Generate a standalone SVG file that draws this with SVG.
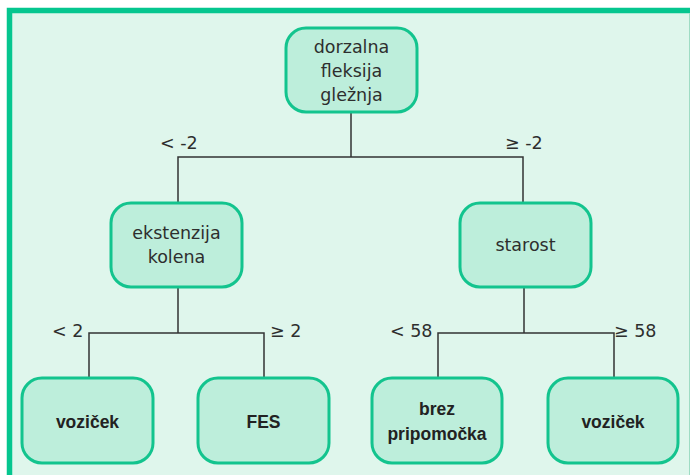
<svg xmlns="http://www.w3.org/2000/svg" width="690" height="475" viewBox="0 0 690 475">
<style>
.node rect{fill:#bdeedb;stroke:#13c48e;stroke-width:3}
.t{font-family:"DejaVu Sans",sans-serif;font-size:17.5px;fill:#2e2e2e;text-anchor:middle}
.b{font-family:"Liberation Sans",Arial,sans-serif;font-size:17.5px;font-weight:bold;fill:#222;text-anchor:middle}
.lbl{font-family:"DejaVu Sans",sans-serif;font-size:17.5px;fill:#2e2e2e}
.edges path{fill:none;stroke:#333;stroke-width:1.5}
</style>
<rect x="0" y="0" width="690" height="475" fill="#ffffff"/>
<rect x="7" y="8" width="690" height="480" fill="#dff6ec"/>
<path d="M9.5,475 V10.5 H690" fill="none" stroke="#05c68f" stroke-width="5.5"/>
<line x1="689.5" y1="13" x2="689.5" y2="475" stroke="#9fdcc4" stroke-width="1"/>
<g class="edges">
<path d="M351,113 V157 M178,203 V157 H523 V203"/>
<path d="M178,287 V333 M89,377 V333 H264 V377"/>
<path d="M524,287 V333 M438,377 V333 H614 V377"/>
</g>
<g class="lbl">
<text x="160" y="149">&lt; -2</text>
<text x="505" y="149">≥ -2</text>
<text x="52" y="337">&lt; 2</text>
<text x="270" y="337">≥ 2</text>
<text x="390" y="337">&lt; 58</text>
<text x="614" y="337">≥ 58</text>
</g>
<g id="n-root" class="node">
<rect x="286" y="28" width="131" height="84" rx="20"/>
<text class="t" x="351.5" y="53">dorzalna</text>
<text class="t" x="351.5" y="77">fleksija</text>
<text class="t" x="351.5" y="101">gležnja</text>
</g>
<g id="n-koleno" class="node">
<rect x="111" y="203" width="131" height="84" rx="20"/>
<text class="t" x="176.5" y="239">ekstenzija</text>
<text class="t" x="176.5" y="263">kolena</text>
</g>
<g id="n-starost" class="node">
<rect x="460" y="203" width="131" height="84" rx="20"/>
<text class="t" x="525.5" y="251">starost</text>
</g>
<g id="n-vozicek1" class="node">
<rect x="22" y="378" width="131" height="85" rx="20"/>
<text class="b" x="87.5" y="428">voziček</text>
</g>
<g id="n-fes" class="node">
<rect x="198" y="378" width="131" height="85" rx="20"/>
<text class="b" x="263.5" y="428">FES</text>
</g>
<g id="n-brez" class="node">
<rect x="372" y="378" width="130" height="85" rx="20"/>
<text class="b" x="437" y="415">brez</text>
<text class="b" x="437" y="440">pripomočka</text>
</g>
<g id="n-vozicek2" class="node">
<rect x="548" y="378" width="130" height="85" rx="20"/>
<text class="b" x="613" y="428">voziček</text>
</g>
</svg>
